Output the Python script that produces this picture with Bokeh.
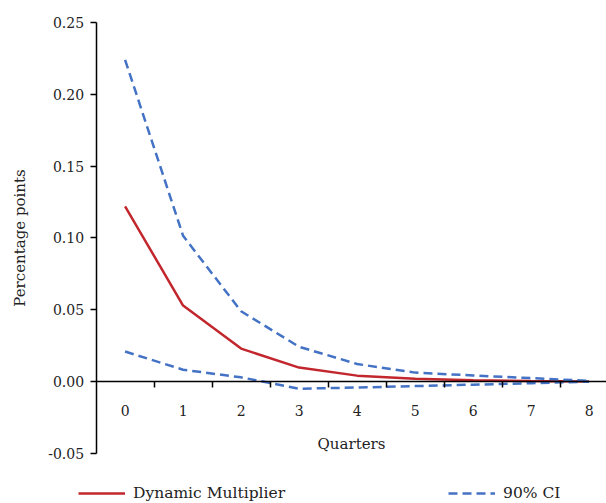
from bokeh.plotting import figure
from bokeh.models import FixedTicker, PrintfTickFormatter, Legend, LegendItem, Range1d
from bokeh.embed import file_html
from bokeh.resources import INLINE

quarters = [0, 1, 2, 3, 4, 5, 6, 7, 8]
multiplier = [0.122, 0.053, 0.023, 0.0098, 0.0042, 0.002, 0.001, 0.0005, 0.0002]
ci_upper = [0.224, 0.1015, 0.049, 0.0243, 0.0123, 0.0063, 0.0043, 0.0025, 0.0005]
ci_lower = [0.021, 0.0083, 0.003, -0.0049, -0.0041, -0.0031, -0.0021, -0.0011, 0.0000]
y_ticks = [-0.05, 0.0, 0.05, 0.10, 0.15, 0.20, 0.25]
x_extent = (-0.5, 8.3)
y_extent = (-0.05, 0.25)

FONT = "DejaVu Serif"
RED = "#C1272D"
BLUE = "#4472C4"

p = figure(width=606, height=503, output_backend="svg", toolbar_location=None,
           x_range=Range1d(-2.148, 8.3), y_range=Range1d(-0.0848, 0.2653),
           min_border_left=0, min_border_top=0, min_border_right=0, min_border_bottom=0)
p.outline_line_color = None
p.xgrid.visible = False
p.ygrid.visible = False
p.background_fill_color = "white"

r_mult = p.line(quarters, multiplier, line_color=RED, line_width=2.5)
r_up = p.line(quarters, ci_upper, line_color=BLUE, line_width=2.5, line_dash="9 5")
r_lo = p.line(quarters, ci_lower, line_color=BLUE, line_width=2.5, line_dash="9 5")

xa = p.xaxis[0]
xa.fixed_location = 0
xa.bounds = x_extent
xa.ticker = FixedTicker(ticks=quarters, minor_ticks=[q + 0.5 for q in quarters[:-1]])
xa.major_tick_out = 0
xa.major_tick_in = 0
xa.minor_tick_out = 6
xa.minor_tick_in = 0
xa.axis_line_color = "black"
xa.axis_line_width = 1.5
xa.minor_tick_line_color = "black"
xa.minor_tick_line_width = 1.5
xa.major_label_standoff = 17
xa.axis_label = "Quarters"
xa.axis_label_standoff = 16
xa.axis_label_text_font = FONT
xa.axis_label_text_font_style = "normal"
xa.axis_label_text_font_size = "15px"
xa.axis_label_text_color = "#222222"
xa.major_label_text_font = FONT
xa.major_label_text_font_size = "14px"
xa.major_label_text_color = "#222222"

ya = p.yaxis[0]
ya.fixed_location = x_extent[0]
ya.bounds = y_extent
ya.ticker = FixedTicker(ticks=y_ticks, minor_ticks=[])
ya.formatter = PrintfTickFormatter(format="%.2f")
ya.major_tick_out = 6
ya.major_tick_in = 0
ya.axis_line_color = "black"
ya.axis_line_width = 1.5
ya.major_tick_line_width = 1.5
ya.major_label_standoff = 6
ya.axis_label = "Percentage points"
ya.axis_label_standoff = 17
ya.axis_label_text_font = FONT
ya.axis_label_text_font_style = "normal"
ya.axis_label_text_font_size = "15px"
ya.axis_label_text_color = "#222222"
ya.major_label_text_font = FONT
ya.major_label_text_font_size = "14px"
ya.major_label_text_color = "#222222"

legend = Legend(items=[LegendItem(label="Dynamic Multiplier", renderers=[r_mult]),
                       LegendItem(label="90% CI", renderers=[r_up])],
                orientation="horizontal", location=(78, 0), spacing=163,
                glyph_width=47, label_standoff=8, padding=0, margin=0,
                border_line_color=None, background_fill_alpha=0,
                label_text_font=FONT, label_text_font_size="15.5px", label_text_color="#222222")
p.add_layout(legend, "center")

open("out.html", "w").write(file_html(p, INLINE))
